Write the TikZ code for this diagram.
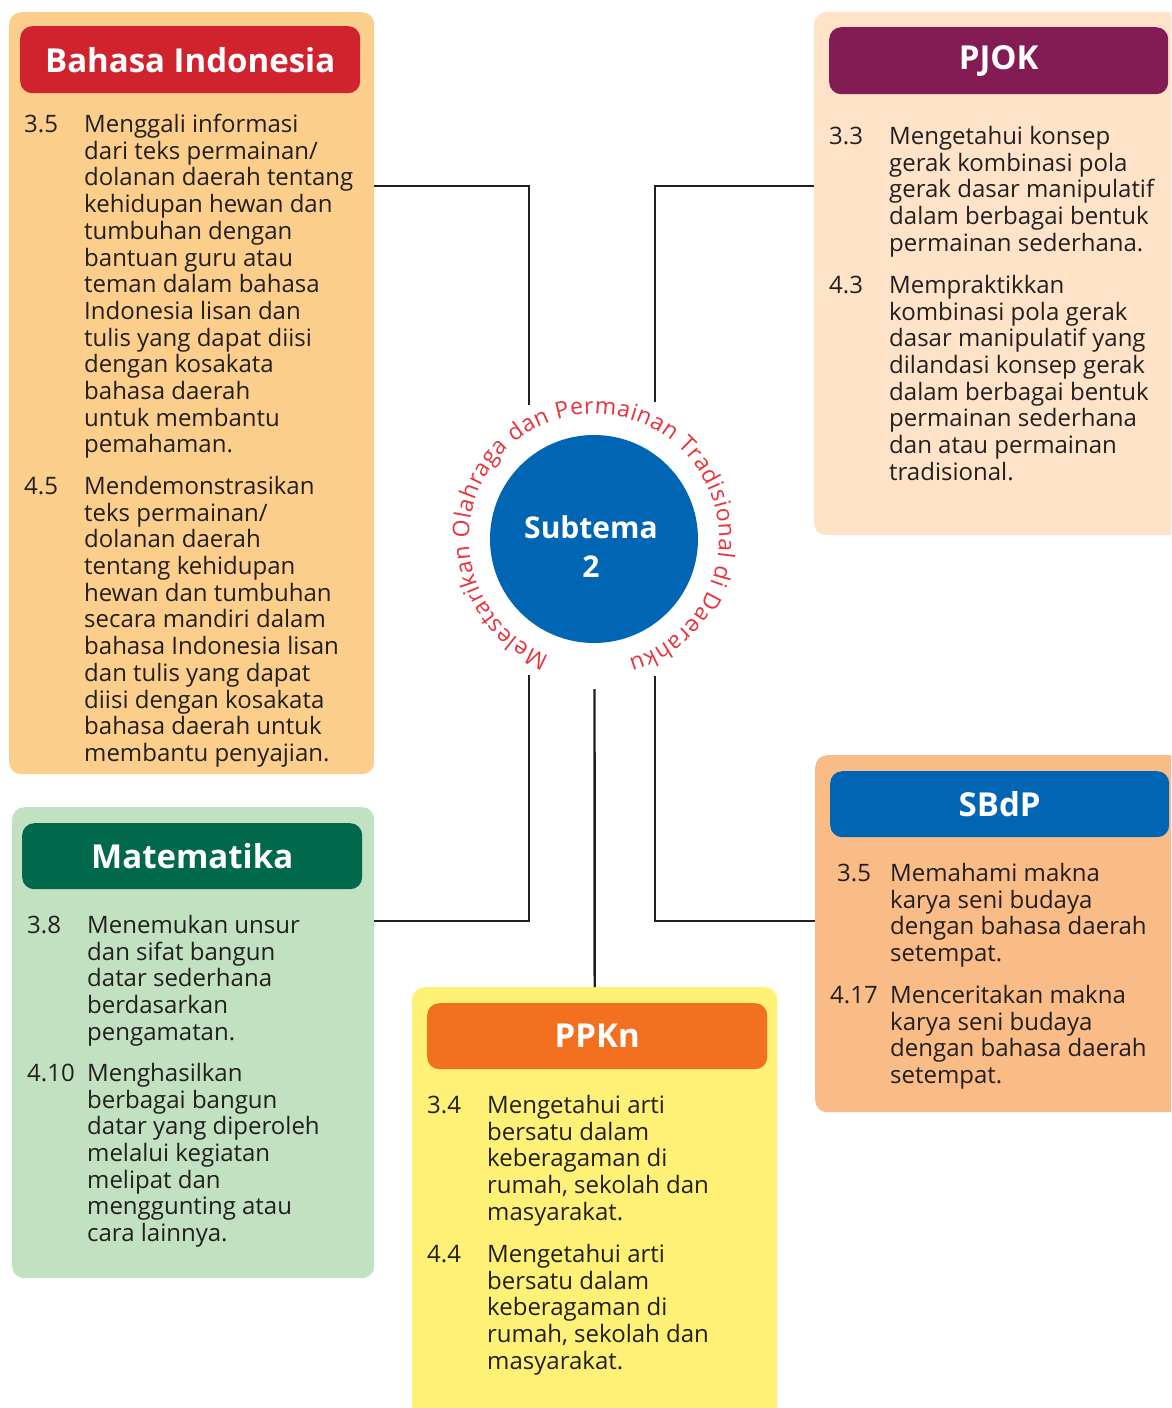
\documentclass[tikz,border=0pt]{standalone}
\usepackage{fontspec}
\setmainfont{Open Sans}
\usepackage{xcolor}
\usepackage{tikz}
\usetikzlibrary{decorations.text}
\definecolor{inkdark}{HTML}{231F20}
\definecolor{bipanel}{HTML}{FCCE8C}
\definecolor{bititle}{HTML}{D1232E}
\definecolor{pjpanel}{HTML}{FEE3C8}
\definecolor{pjtitle}{HTML}{831C54}
\definecolor{mtpanel}{HTML}{C1E1C1}
\definecolor{mttitle}{HTML}{00694B}
\definecolor{pppanel}{HTML}{FEF175}
\definecolor{pptitle}{HTML}{F37021}
\definecolor{sbpanel}{HTML}{F9BC86}
\definecolor{sbtitle}{HTML}{0066B3}
\definecolor{subblue}{HTML}{0066B3}
\definecolor{arcred}{HTML}{E8323C}
\tikzset{
  panel/.style={rounded corners=12pt,inner sep=0pt,anchor=north west},
  titlebar/.style={rounded corners=12pt,inner sep=0pt,anchor=north west,
    text=white,font=\fontsize{33}{38}\selectfont\bfseries},
  num/.style={anchor=north west,inner sep=0pt,text=inkdark,
    font=\fontsize{24}{26.7}\selectfont,execute at begin node=\strut},
  kd/.style={num,align=left},
  link/.style={draw=inkdark,line width=2.4pt},
  hub/.style={circle,fill=subblue,inner sep=0pt,minimum size=208pt},
  hubtext/.style={text=white,align=center,font=\fontsize{30}{39}\selectfont\bfseries},
  arctext/.style={decorate,decoration={text along path,text align=fit to path,
    text color=arcred,text={|\fontsize{23}{27}\selectfont|#1}}}
}
\begin{document}
\begin{tikzpicture}[x=1pt,y=1pt]
  \useasboundingbox (0,0) rectangle (1171,-1408);
  \clip (0,0) rectangle (1171,-1408);

  % panels
  \node[panel,fill=bipanel,minimum width=365pt,minimum height=762pt] (bi) at (9,-12) {};
  \node[panel,fill=pjpanel,minimum width=380pt,minimum height=523pt] (pj) at (814,-12) {};
  \node[panel,fill=mtpanel,minimum width=362pt,minimum height=471pt] (mt) at (12,-807) {};
  \node[panel,fill=pppanel,minimum width=365pt,minimum height=440pt] (pp) at (412,-987) {};
  \node[panel,fill=sbpanel,minimum width=380pt,minimum height=357pt] (sb) at (815,-755) {};

  \node[titlebar,fill=bititle,minimum width=340pt,minimum height=67pt] (bihead) at (20,-26) {Bahasa Indonesia};
  \node[titlebar,fill=pjtitle,minimum width=339pt,minimum height=67pt] (pjhead) at (829,-27) {PJOK};
  \node[titlebar,fill=mttitle,minimum width=340pt,minimum height=66pt] (mthead) at (22,-823) {Matematika};
  \node[titlebar,fill=pptitle,minimum width=340pt,minimum height=66pt] (pphead) at (427,-1003) {PPKn};
  \node[titlebar,fill=sbtitle,minimum width=339pt,minimum height=66pt] (sbhead) at (830,-771) {SBdP};

  % Bahasa Indonesia
  \node[num] (bi35n) at (24,-114) {3.5};
  \node[kd] (bi35) at (84,-114) {Menggali informasi\\dari teks permainan/\\dolanan daerah tentang\\
    kehidupan hewan dan\\tumbuhan dengan\\bantuan guru atau\\teman dalam bahasa\\
    Indonesia lisan dan\\tulis yang dapat diisi\\dengan kosakata\\bahasa daerah\\
    untuk membantu\\pemahaman.};
  \node[num] (bi45n) at (24,-476) {4.5};
  \node[kd] (bi45) at (84,-476) {Mendemonstrasikan\\teks permainan/\\dolanan daerah\\
    tentang kehidupan\\hewan dan tumbuhan\\secara mandiri dalam\\bahasa Indonesia lisan\\
    dan tulis yang dapat\\diisi dengan kosakata\\bahasa daerah untuk\\membantu penyajian.};

  % PJOK
  \node[num] (pj33n) at (829,-126) {3.3};
  \node[kd] (pj33) at (889,-126) {Mengetahui konsep\\gerak kombinasi pola\\
    gerak dasar manipulatif\\dalam berbagai bentuk\\permainan sederhana.};
  \node[num] (pj43n) at (829,-275) {4.3};
  \node[kd] (pj43) at (889,-275) {Mempraktikkan\\kombinasi pola gerak\\
    dasar manipulatif yang\\dilandasi konsep gerak\\dalam berbagai bentuk\\
    permainan sederhana\\dan atau permainan\\tradisional.};

  % SBdP
  \node[num] (sb35n) at (837,-863) {3.5};
  \node[kd] (sb35) at (890,-863) {Memahami makna\\karya seni budaya\\
    dengan bahasa daerah\\setempat.};
  \node[num] (sb417n) at (830,-985) {4.17};
  \node[kd] (sb417) at (890,-985) {Menceritakan makna\\karya seni budaya\\
    dengan bahasa daerah\\setempat.};

  % Matematika
  \node[num] (mt38n) at (27,-915) {3.8};
  \node[kd] (mt38) at (87,-915) {Menemukan unsur\\dan sifat bangun\\
    datar sederhana\\berdasarkan\\pengamatan.};
  \node[num] (mt410n) at (27,-1063) {4.10};
  \node[kd] (mt410) at (87,-1063) {Menghasilkan\\berbagai bangun\\
    datar yang diperoleh\\melalui kegiatan\\melipat dan\\menggunting atau\\cara lainnya.};

  % PPKn
  \node[num] (pp34n) at (427,-1095) {3.4};
  \node[kd] (pp34) at (487,-1095) {Mengetahui arti\\bersatu dalam\\
    keberagaman di\\rumah, sekolah dan\\masyarakat.};
  \node[num] (pp44n) at (427,-1244) {4.4};
  \node[kd] (pp44) at (487,-1244) {Mengetahui arti\\bersatu dalam\\
    keberagaman di\\rumah, sekolah dan\\masyarakat.};

  % subtema
  \node[hub] (sub) at (594,-539) {};
  \node[hubtext] (subtitle) at (591,-547) {Subtema\\2};
  \path[arctext={Melestarikan Olahraga dan Permainan Tradisional di Daerahku}]
    (sub.center) ++(249:125pt) arc[start angle=249,end angle=-74,radius=125pt];

  % connectors
  \coordinate (biend) at (529,-405);
  \coordinate (pjend) at (655,-402);
  \coordinate (mtend) at (529,-675);
  \coordinate (sbend) at (655,-676);
  \coordinate (ppend) at (594.5,-689);
  \draw[link] ([yshift=-174pt]bi.north east) -| (biend);
  \draw[link] ([yshift=-174pt]pj.north west) -| (pjend);
  \draw[link] (mtend) |- ([yshift=-114pt]mt.north east);
  \draw[link] (sbend) |- ([yshift=-166pt]sb.north west);
  \draw[link] (ppend) -- (pp.north);
\end{tikzpicture}
\end{document}
